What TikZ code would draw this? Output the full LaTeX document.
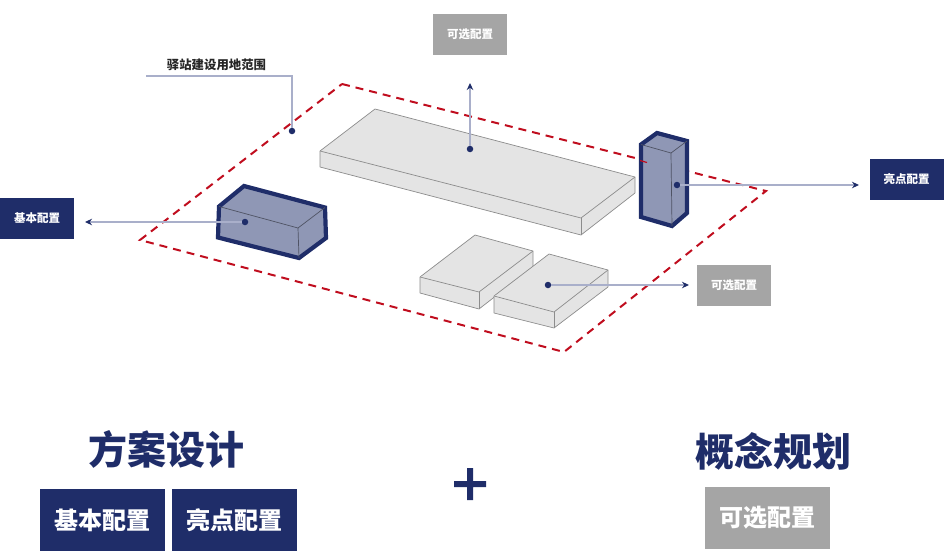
\documentclass[tikz,border=0pt]{standalone}
\usepackage{fontspec}
\newfontfamily\cjk{Noto Sans CJK SC}
\usetikzlibrary{arrows.meta,positioning}
\definecolor{navy}{HTML}{1F2D69}
\definecolor{lilac}{HTML}{8F97B5}
\definecolor{pale}{HTML}{E4E4E4}
\definecolor{edgegray}{HTML}{8C8C8C}
\definecolor{optgray}{HTML}{A5A5A5}
\definecolor{sitered}{HTML}{C00D1E}
\definecolor{leader}{HTML}{A9AFCA}
\begin{document}
\begin{tikzpicture}[x=1pt,y=-1pt,
      f/.style={draw=edgegray,fill=pale,line width=.7pt,line join=round},
      h/.style={draw=navy,fill=lilac,line width=4.2pt,line join=miter},
      e/.style={draw=black!45!lilac,line width=.7pt},
      k/.style={fill=navy,text=white,inner sep=0pt,font=\cjk\bfseries},
      o/.style={fill=optgray,text=white,inner sep=0pt,font=\cjk\bfseries},
      s/.style={minimum width=74pt,minimum height=41pt,font=\cjk\bfseries\fontsize{11.5}{12}\selectfont},
      b/.style={minimum width=125pt,minimum height=62pt,font=\cjk\bfseries\fontsize{24}{26}\selectfont},
      t/.style={text=navy,inner sep=0pt,font=\cjk\bfseries\fontsize{39}{40}\selectfont},
      d/.style={circle,fill=navy,inner sep=0pt,minimum size=6.5pt},
      l/.style={draw=leader,line width=1.3pt},
      a/.style={l,arrows={-Stealth[length=7pt,width=6.5pt,color=navy]}}]
    \useasboundingbox (0,0) rectangle (945,554);
    % site boundary
    \draw[sitered,line width=2pt,dash pattern=on 8pt off 6pt,line join=miter]
      (342,84)--(766,191)--(564,352)--(140,240)--cycle;
    % long block
    \draw[f] (375,109)--(635,177)--(635,193)--(581,235)--(320,167)--(320,151)--cycle;
    \draw[f] (320,151)--(581,218)--(635,177);
    \draw[f] (581,218)--(581,235);
    % two small blocks
    \draw[f] (475,235)--(533,251)--(533,267)--(479,309)--(420,293)--(420,277)--cycle;
    \draw[f] (420,277)--(479,292)--(533,251);
    \draw[f] (479,292)--(479,309);
    \draw[f] (549,254)--(608,270)--(608,287)--(554,328)--(494,313)--(494,296)--cycle;
    \draw[f] (494,296)--(554,312)--(608,270);
    \draw[f] (554,312)--(554,328);
    % highlighted blocks
    \draw[h] (244,186)--(325,207.5)--(326,238)--(299,258)--(218,237.5)--(219,206.5)--cycle;
    \draw[e] (219,206.5)--(298,228)--(325,207.5);
    \draw[e] (298,228)--(299,258);
    \draw[h] (657,133)--(687,141)--(687,213)--(672,226)--(641,217)--(641,144.5)--cycle;
    \draw[e] (641,144.5)--(671,153)--(687,141);
    \draw[e] (671,153)--(672,226);
    \draw[sitered,line width=1.2pt] (640,160.5)--(647,162.5);
    % tags
    \node[o,s] (opta) at (470,34.5) {可选配置};
    \node[o,s] (optb) at (734,285) {可选配置};
    \node[k,s] (base) at (37,218.5) {基本配置};
    \node[k,s] (star) at (906.5,179.5) {亮点配置};
    \node[text=black!85,inner sep=0pt,font=\cjk\bfseries\fontsize{12.4}{13}\selectfont] (site) at (216.5,65) {驿站建设用地范围};
    % lower legend
    \node[t] (plan) at (166.5,449) {方案设计};
    \node[t] (idea) at (773,451) {概念规划};
    \node[k,b] (basebig) at (102,520) {基本配置};
    \node[k,b] (starbig) at (234.5,520) {亮点配置};
    \node[o,b] (optbig) at (767.5,518) {可选配置};
    \fill[navy] (454,481) rectangle (486,487) (467,468) rectangle (473,500);
    % leaders
    \node[d] (dsite) at (292,131) {};
    \node[d] (dlong) at (470,149) {};
    \node[d] (dbase) at (245,222) {};
    \node[d] (dstar) at (677,185) {};
    \node[d] (dopt) at (548,285) {};
    \coordinate (csite) at (146,76);
    \coordinate (clong) at (470,83);
    \coordinate (cbase) at (85,222);
    \coordinate (cstar) at (859,185);
    \coordinate (copt) at (689,285);
    \draw[l] (csite)-|(dsite);
    \draw[a] (dlong)--(clong);
    \draw[a] (dbase)--(cbase);
    \draw[a] (dstar)--(cstar);
    \draw[a] (dopt)--(copt);
\end{tikzpicture}
\end{document}
